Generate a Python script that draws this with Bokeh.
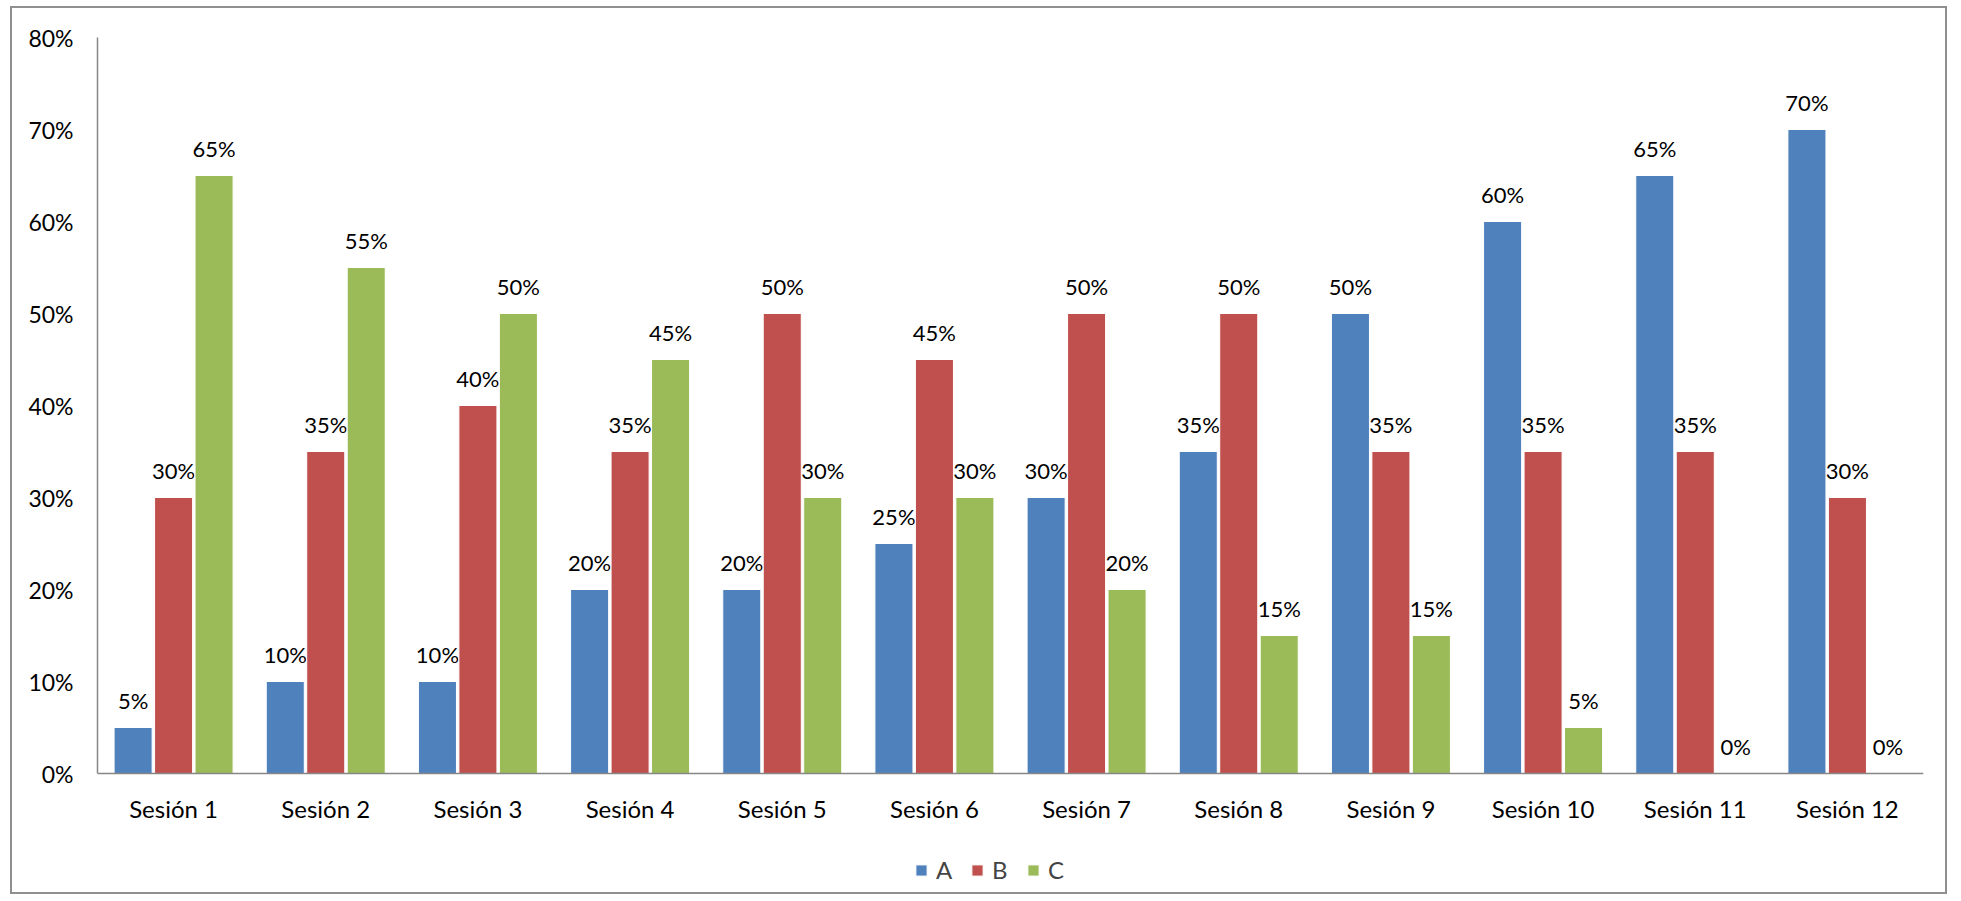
from bokeh.plotting import figure
from bokeh.models import ColumnDataSource, Legend, LegendItem, FactorRange, NumeralTickFormatter, FixedTicker, Span
from bokeh.transform import dodge
from bokeh.core.properties import value
from bokeh.embed import file_html
from bokeh.resources import INLINE

sessions = ["Sesión 1", "Sesión 2", "Sesión 3", "Sesión 4", "Sesión 5", "Sesión 6",
            "Sesión 7", "Sesión 8", "Sesión 9", "Sesión 10", "Sesión 11", "Sesión 12"]
serie_a = [5, 10, 10, 20, 20, 25, 30, 35, 50, 60, 65, 70]
serie_b = [30, 35, 40, 35, 50, 45, 50, 50, 35, 35, 35, 30]
serie_c = [65, 55, 50, 45, 30, 30, 20, 15, 15, 5, 0, 0]
series_names = ["A", "B", "C"]
colors = ["#4F81BD", "#C0504D", "#9BBB59"]
y_ticks = [0, 0.1, 0.2, 0.3, 0.4, 0.5, 0.6, 0.7, 0.8]

src = ColumnDataSource(dict(
    x=sessions,
    zero=[0] * len(sessions),
    A=[v / 100 for v in serie_a],
    B=[v / 100 for v in serie_b],
    C=[v / 100 for v in serie_c],
    lA=[f"{v}%" for v in serie_a],
    lB=[f"{v}%" for v in serie_b],
    lC=[f"{v}%" for v in serie_c],
))

FONT = "Lato"
W, H = 1937, 888

p = figure(x_range=FactorRange(*sessions, range_padding=0), y_range=(-0.12826, 0.8),
           width=W, height=H, output_backend="svg", toolbar_location=None,
           min_border_left=85, min_border_right=26, min_border_top=29, min_border_bottom=5)
p.x_range.range_padding = 0
p.margin = (6, 0, 0, 10)
p.styles = {"border": "2px solid #8f8f8f"}

offsets = [-0.266, 0.0, 0.266]
renderers = []
for name, col, off in zip(series_names, colors, offsets):
    r = p.vbar(x=dodge("x", off, range=p.x_range), top=name, width=0.25, source=src,
               fill_color=col, line_color="white", line_width=1)
    renderers.append(r)
    p.text(x=dodge("x", off, range=p.x_range), y=name, text="l" + name, source=src,
           text_align="center", text_baseline="middle", y_offset=-27,
           text_font=value(FONT), text_font_size="22px", text_color="black")

# category labels under the baseline
p.text(x="x", y="zero", text="x", source=src, text_align="center", text_baseline="middle",
       y_offset=35, text_font=value(FONT), text_font_size="24px", text_color="black")

# x axis line at 0
p.add_layout(Span(location=0, dimension="width", line_color="#868686", line_width=1.5))

p.grid.visible = False
p.outline_line_color = None
p.xaxis.visible = False

yax = p.yaxis[0]
yax.ticker = FixedTicker(ticks=y_ticks)
yax.formatter = NumeralTickFormatter(format="0%")
yax.bounds = (0, 0.8)
yax.axis_line_color = "#868686"
yax.axis_line_width = 1.5
yax.major_tick_line_color = None
yax.minor_tick_line_color = None
yax.major_tick_out = 0
yax.major_tick_in = 0
yax.major_label_text_font = FONT
yax.major_label_text_color = "black"
yax.major_label_text_font_size = "23px"
yax.major_label_standoff = 24

legend = Legend(items=[LegendItem(label=n, renderers=[r]) for n, r in zip(series_names, renderers)],
                orientation="horizontal", location=(817, 7),
                glyph_width=14, glyph_height=14, label_standoff=8, spacing=14,
                label_text_font=FONT, label_text_font_size="24px",
                border_line_color=None, background_fill_alpha=0,
                margin=0, padding=8)
p.add_layout(legend, "center")

open("out.html", "w").write(file_html(p, INLINE))
